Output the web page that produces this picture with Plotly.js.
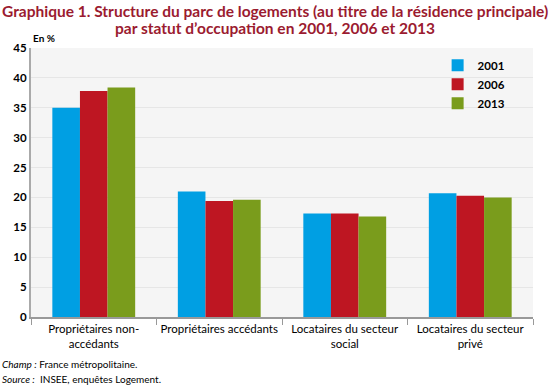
<!DOCTYPE html>
<html><head><meta charset="utf-8">
<script src="https://cdn.plot.ly/plotly-3.0.1.min.js"></script>
<style>body{margin:0;padding:0;background:#fff}#chart{width:550px;height:385px}</style>
</head><body><div id="chart"></div>
<script>
const categories = ["Propriétaires non-accédants","Propriétaires accédants","Locataires du secteur social","Locataires du secteur privé"];
const tickLabels = ["Propriétaires non-<br>accédants","Propriétaires accédants","Locataires du secteur<br>social","Locataires du secteur<br>privé"];
const years = ["2001","2006","2013"];
const v2001 = [35.0, 21.0, 17.3, 20.7];
const v2006 = [37.8, 19.4, 17.3, 20.3];
const v2013 = [38.4, 19.6, 16.8, 20.0];
const titleLines = ["Graphique 1. Structure du parc de logements (au titre de la résidence principale)", "par statut d’occupation en 2001, 2006 et 2013"];
const colors = ["#009FE3","#BE1622","#7A9C1C"];
const series = [v2001, v2006, v2013];
const FONT = "Lato, 'Open Sans', sans-serif";

const traces = series.map((vals, i) => ({
  type: "bar", x: categories, y: vals, name: years[i],
  marker: {color: colors[i], line: {width: 0}},
  hoverinfo: "y"
}));

const PH = 385 - 48 - 68, PW = 550 - 31 - 17;
const titleAnn = titleLines.map((t, i) => ({
  text: "<b>" + t + "</b>", xref: "paper", yref: "paper", x: (275 - 31) / PW, y: 1 + 48 / PH,
  xanchor: "center", yanchor: "middle", yshift: -(11 + i * 17),
  showarrow: false, font: {family: FONT, size: 15.5, color: "#9B1B30"}
}));
const layout = {
  width: 550, height: 385,
  margin: {l: 31, r: 17, t: 48, b: 68},
  paper_bgcolor: "#ffffff", plot_bgcolor: "#f5f5f5",
  font: {family: FONT, size: 11, color: "#000"},
  barmode: "group", bargap: 0.34, bargroupgap: 0,
  xaxis: {tickmode: "array", tickvals: categories, ticktext: tickLabels, tickangle: 0,
    ticks: "outside", tickson: "boundaries", ticklen: 6, tickcolor: "#999", tickwidth: 1,
    showline: true, linecolor: "#999", linewidth: 2, showgrid: false,
    tickfont: {family: FONT, size: 11.5}, fixedrange: true},
  yaxis: {range: [0, 45], dtick: 5, showline: true, linecolor: "#aaa", linewidth: 2,
    gridcolor: "#e6e6e6", gridwidth: 1, zeroline: false, ticks: "", ticklen: 0,
    tickfont: {family: FONT, size: 11.5, weight: "bold"}, fixedrange: true},
  legend: {x: 0.81, y: 0.99, xanchor: "left", yanchor: "top", bgcolor: "rgba(0,0,0,0)",
    font: {family: FONT, size: 11.5, weight: "bold"}, tracegroupgap: 0, itemwidth: 30},
  showlegend: true,
  annotations: titleAnn.concat([
    {text: "<b>En %</b>", xref: "paper", yref: "paper", x: 0, y: 1, xanchor: "left", yanchor: "bottom", yshift: 2, showarrow: false, font: {family: FONT, size: 10}},
    {text: "<i>Champ :</i> France métropolitaine.", xref: "paper", yref: "paper", x: -31 / PW, y: 0, xanchor: "left", yanchor: "top", yshift: -39, showarrow: false, font: {family: FONT, size: 10}},
    {text: "<i>Source :</i>  INSEE, enquêtes Logement.", xref: "paper", yref: "paper", x: -31 / PW, y: 0, xanchor: "left", yanchor: "top", yshift: -54, showarrow: false, font: {family: FONT, size: 10}}
  ])
};
Plotly.newPlot("chart", traces, layout, {staticPlot: true, displayModeBar: false});
</script></body></html>
